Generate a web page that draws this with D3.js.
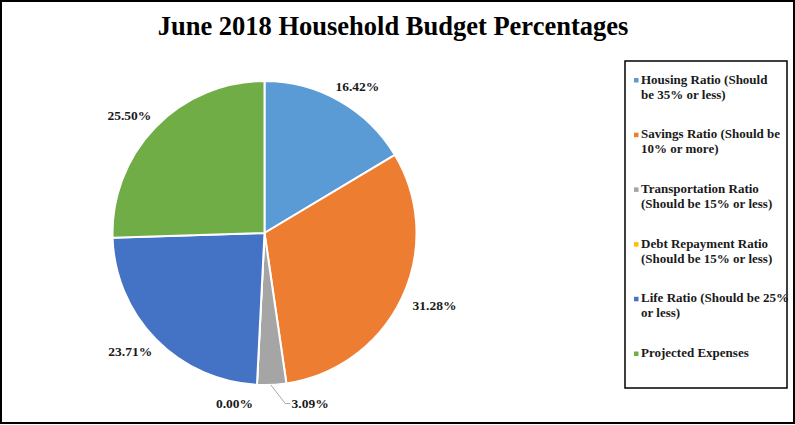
<!DOCTYPE html>
<html>
<head>
<meta charset="utf-8">
<script src="https://cdn.jsdelivr.net/npm/d3@7"></script>
<style>
  body { margin: 0; background: #fff; }
  text { font-family: "Liberation Serif", "DejaVu Serif", serif; font-weight: bold; fill: #1a1a1a; }
</style>
</head>
<body>
<div id="chart"></div>
<script>
// Chart data
const categories = [
    "Housing Ratio (Should\nbe 35% or less)",
    "Savings Ratio (Should be\n10% or more)",
    "Transportation Ratio\n(Should be 15% or less)",
    "Debt Repayment Ratio\n(Should be 15% or less)",
    "Life Ratio (Should be 25%\nor less)",
    "Projected Expenses"
];
const values = [16.42, 31.28, 3.09, 0.00, 23.71, 25.50];
const colors = ["#5B9BD5", "#ED7D31", "#A5A5A5", "#FFC000", "#4472C4", "#70AD47"];
const title = "June 2018 Household Budget Percentages";

// Set SVG parameters
const svgWidth = 795;
const svgHeight = 425;

const pieCenter = { x: 264.5, y: 233 };
const radius = 152;

const svg = d3.select("#chart")
    .append("svg")
    .attr("width", svgWidth)
    .attr("height", svgHeight);

// Outer frame
svg.append("rect")
    .attr("x", 1).attr("y", 1)
    .attr("width", 793).attr("height", 422)
    .attr("fill", "#fff")
    .attr("stroke", "#000")
    .attr("stroke-width", 2);

// Title
svg.append("text")
    .attr("x", 393)
    .attr("y", 35)
    .attr("text-anchor", "middle")
    .style("font-size", "26.5px")
    .style("fill", "#000")
    .text(title);

const data = categories.map((c, i) => ({ name: c, value: values[i], color: colors[i] }));

const pie = d3.pie()
    .sort(null)
    .value(d => d.value);

const arc = d3.arc()
    .innerRadius(0)
    .outerRadius(radius);

const arcs = pie(data);

const pieGroup = svg.append("g")
    .attr("transform", `translate(${pieCenter.x}, ${pieCenter.y})`);

pieGroup.selectAll("path")
    .data(arcs)
    .join("path")
    .attr("d", arc)
    .attr("fill", d => d.data.color)
    .attr("stroke", "#fff")
    .attr("stroke-width", 2);

// Data labels - outside end, pushed out by text box size
const labelSize = 13.5;
const labels = arcs.map(d => {
    const a = (d.startAngle + d.endAngle) / 2;
    const s = Math.sin(a), c = Math.cos(a);
    const txt = d.data.value.toFixed(2) + "%";
    const w = txt.length * labelSize * 0.5;
    const h = labelSize;
    const x0 = (radius + 12) * s + (w / 2 + 4) * s;
    const y0 = -(radius + 10) * c - (h / 2) * c;
    return { d, a, txt, w, h, x: x0, y: y0, x0, y0 };
});

// Spread overlapping labels apart horizontally
for (let i = 0; i < labels.length; i++) {
    for (let j = i + 1; j < labels.length; j++) {
        const A = labels[i], B = labels[j];
        const overlapX = (A.w + B.w) / 2 - Math.abs(A.x - B.x);
        const overlapY = (A.h + B.h) / 2 - Math.abs(A.y - B.y);
        if (overlapX > 0 && overlapY > 0) {
            const mid = (A.x + B.x) / 2 + 8;
            const gap = 42;
            const left = A.x <= B.x ? A : B;
            const right = left === A ? B : A;
            left.x = mid - gap / 2 - left.w / 2;
            right.x = mid + gap / 2 + right.w / 2;
            left.y = right.y = Math.max(A.y, B.y) + 2;
        }
    }
}

const labelGroup = pieGroup.append("g");

labels.forEach(l => {
    if (l.d.data.value > 0 && Math.abs(l.x - l.x0) > 12) {
        const px = radius * Math.sin(l.a) - 1;
        const py = -radius * Math.cos(l.a);
        const ex = l.x - l.w / 2 - 3;
        const ey = l.y;
        labelGroup.append("polyline")
            .attr("points", `${px},${py} ${ex - 5},${ey} ${ex},${ey}`)
            .attr("fill", "none")
            .attr("stroke", "#a6a6a6")
            .attr("stroke-width", 1);
    }
    labelGroup.append("text")
        .attr("x", l.x)
        .attr("y", l.y)
        .attr("dy", "0.35em")
        .attr("text-anchor", "middle")
        .style("font-size", labelSize + "px")
        .text(l.txt);
});

// Legend
const legend = { x: 625, y: 61, w: 162, h: 327 };
svg.append("rect")
    .attr("x", legend.x).attr("y", legend.y)
    .attr("width", legend.w).attr("height", legend.h)
    .attr("fill", "#fff")
    .attr("stroke", "#000")
    .attr("stroke-width", 1.5);

const legendRows = svg.append("g").selectAll("g")
    .data(data)
    .join("g")
    .attr("transform", (d, i) => `translate(${legend.x + 9}, ${83.5 + i * 54.7})`);

legendRows.append("rect")
    .attr("x", 0).attr("y", -5.5)
    .attr("width", 4.5).attr("height", 4.5)
    .attr("fill", d => d.color);

legendRows.append("text")
    .attr("x", 7)
    .style("font-size", "13px")
    .selectAll("tspan")
    .data(d => d.name.split("\n"))
    .join("tspan")
    .attr("x", 7)
    .attr("dy", (d, i) => i === 0 ? 0 : 15)
    .text(d => d);
</script>
</body>
</html>
